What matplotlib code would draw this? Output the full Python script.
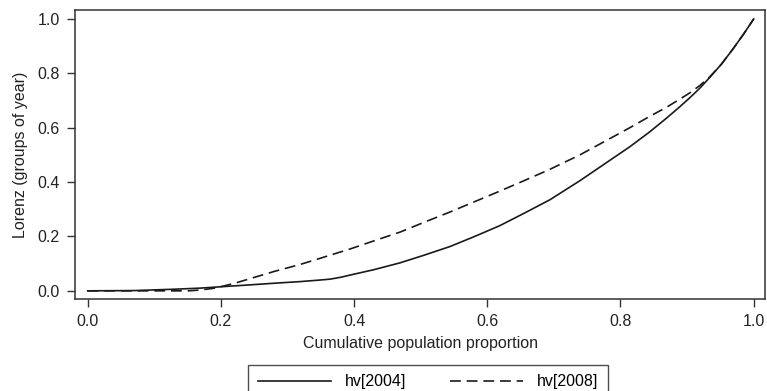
import matplotlib
matplotlib.use("Agg")
import matplotlib.pyplot as plt

plt.rcParams['font.family'] = ['Liberation Sans', 'DejaVu Sans']

# cumulative population proportion and Lorenz ordinates
x_2004 = [0.0, 0.07, 0.13, 0.169, 0.2, 0.244, 0.28, 0.319, 0.345, 0.364, 0.38, 0.394, 0.43,
          0.469, 0.505, 0.544, 0.58, 0.619, 0.655, 0.694, 0.739, 0.769, 0.814, 0.844,
          0.869, 0.889, 0.904, 0.919, 0.934, 0.952, 0.969, 0.985, 1.0]
y_2004 = [0.0, 0.001, 0.006, 0.01, 0.015, 0.022, 0.028, 0.034, 0.039, 0.043, 0.05, 0.058, 0.078,
          0.103, 0.131, 0.163, 0.199, 0.24, 0.285, 0.335, 0.405, 0.455, 0.53, 0.585,
          0.635, 0.677, 0.71, 0.745, 0.785, 0.835, 0.89, 0.945, 1.0]

x_2008 = [0.0, 0.08, 0.15, 0.169, 0.191, 0.221, 0.244, 0.281, 0.319, 0.356, 0.394, 0.43,
          0.469, 0.505, 0.544, 0.58, 0.619, 0.655, 0.694, 0.739, 0.769, 0.814, 0.844,
          0.869, 0.889, 0.904, 0.919, 0.934, 0.952, 0.969, 0.985, 1.0]
y_2008 = [0.0, 0.0, 0.0, 0.003, 0.01, 0.028, 0.045, 0.072, 0.097, 0.125, 0.154, 0.184,
          0.216, 0.252, 0.29, 0.327, 0.367, 0.405, 0.447, 0.5, 0.54, 0.6, 0.642,
          0.675, 0.705, 0.728, 0.755, 0.787, 0.835, 0.89, 0.945, 1.0]

labels = ['hv[2004]', 'hv[2008]']
xticks = [0.0, 0.2, 0.4, 0.6, 0.8, 1.0]
yticks = [0.0, 0.2, 0.4, 0.6, 0.8, 1.0]

fs = 11.5

fig = plt.figure(figsize=(7.67, 3.91), dpi=100)
ax = fig.add_axes([0.0978, 0.2353, 0.8996, 0.7391])

ax.plot(x_2004, y_2004, color='#1a1a1a', lw=1.2, label=labels[0])
ax.plot(x_2008, y_2008, color='#1a1a1a', lw=1.2, linestyle=(0, (6.5, 3.5)), label=labels[1])

ax.set_xlim(-0.019, 1.017)
ax.set_ylim(-0.03, 1.033)
ax.set_xticks(xticks)
ax.set_yticks(yticks)
ax.set_xticklabels(['%.1f' % t for t in xticks])
ax.set_yticklabels(['%.1f' % t for t in yticks])
ax.tick_params(direction='out', length=6, width=1, colors='#333333', labelcolor='#222222',
               labelsize=fs, pad=5)
for s in ax.spines.values():
    s.set_color('#333333')
    s.set_linewidth(1.1)

ax.set_xlabel('Cumulative population proportion', fontsize=fs, color='#222222', labelpad=5)
ax.set_ylabel('Lorenz (groups of year)', fontsize=fs, color='#222222', labelpad=7)

leg = fig.legend(loc='upper center', bbox_to_anchor=(0.558, 0.067), ncol=2,
                 frameon=True, fancybox=False, edgecolor='#222222', fontsize=fs,
                 handlelength=4.6, columnspacing=2.7, handletextpad=0.87,
                 borderpad=0.6, borderaxespad=0)
leg.get_frame().set_linewidth(1.0)

fig.savefig('out.png', dpi=100)
